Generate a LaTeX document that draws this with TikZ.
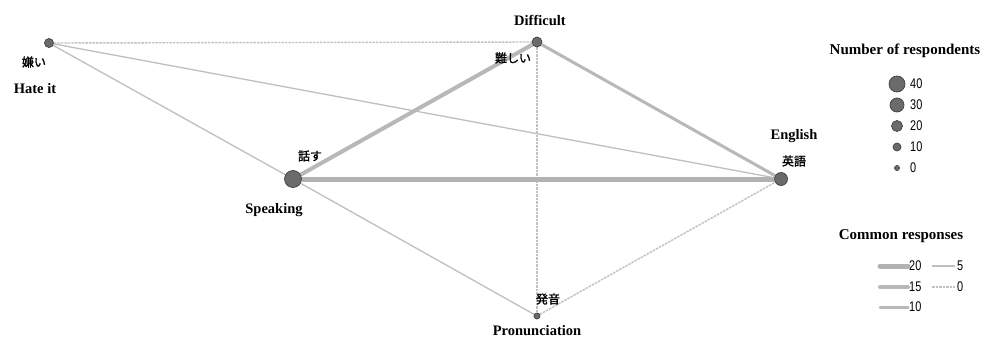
\documentclass[tikz,border=0pt]{standalone}
\usepackage{fontspec}
\setmainfont{Liberation Serif}
\newfontfamily\jpf[FakeBold=1.5]{Noto Sans CJK JP}
\newfontfamily\numf[FakeStretch=0.78]{Liberation Sans}
\usetikzlibrary{backgrounds}
\begin{document}
\begin{tikzpicture}[x=1pt,y=-1pt,
  vtx/.style={circle, fill=black!58, draw=black!75, line width=0.7pt, inner sep=0pt, minimum size=#1},
  en/.style={font=\bfseries\fontsize{14.5}{16}\selectfont, inner sep=0pt},
  jl/.style={font=\jpf\fontsize{12}{13}\selectfont, inner sep=0pt},
  num/.style={font=\numf\fontsize{14}{15}\selectfont, inner sep=0pt, anchor=west},
  ttl/.style={font=\bfseries\fontsize{15}{17}\selectfont, inner sep=0pt},
  etw/.style={line width=5pt, draw=black!30},
  etf/.style={line width=4pt, draw=black!28},
  ete/.style={line width=3pt, draw=black!28},
  efv/.style={line width=1.3pt, draw=black!25},
  ezr/.style={line width=1.4pt, draw=black!24, dash pattern=on 2.5pt off 1pt}]
\useasboundingbox (0,0) rectangle (984,343);

% vertices
\node[vtx=9pt]  (hate) at (49,43) {};
\node[vtx=10pt] (diff) at (537,42) {};
\node[vtx=17pt] (speak) at (293,179) {};
\node[vtx=13pt] (eng) at (781,179) {};
\node[vtx=6pt]  (pron) at (537,316) {};

% edges
\begin{scope}[on background layer]
\fill[white] (0,0) rectangle (984,343);
\draw[ezr] (hate) -- (diff);
\draw[efv] (hate) -- (eng);
\draw[efv] (hate) -- (speak);
\draw[etf] (speak) -- (diff);
\draw[ete] (diff) -- (eng);
\draw[ezr] (diff) -- (pron);
\draw[etw] (speak) -- (eng);
\draw[efv] (speak) -- (pron);
\draw[ezr] (pron) -- (eng);
\end{scope}

% labels
\node[jl] (hatej) at (34,62) {嫌い};
\node[en] (hatee) at (35,89) {Hate it};
\node[en] (diffe) at (540,20) {Difficult};
\node[jl] (diffj) at (513,58) {難しい};
\node[jl] (speakj) at (310,156) {話す};
\node[en] (speake) at (274,210) {Speaking};
\node[en] (enge) at (794,136) {English};
\node[jl] (engj) at (794,161) {英語};
\node[jl] (pronj) at (548,299) {発音};
\node[en] (prone) at (537,331) {Pronunciation};

% legend: respondents
\node[ttl] (lt1) at (905,51) {Number of respondents};
\node[vtx=16pt] (l40) at (897,84) {};
\node[vtx=14pt] (l30) at (897,105) {};
\node[vtx=11pt] (l20) at (897,126) {};
\node[vtx=8pt]  (l10) at (897,147) {};
\node[vtx=5pt]  (l0)  at (897,168) {};
\node[num] (n40) at (910,84) {40};
\node[num] (n30) at (910,105) {30};
\node[num] (n20) at (910,126) {20};
\node[num] (n10) at (910,147) {10};
\node[num] (n0)  at (910,168) {0};

% legend: common responses
\node[ttl] (lt2) at (901,236) {Common responses};
\coordinate (a20) at (880,266); \coordinate (b20) at (908,266);
\coordinate (a15) at (880,287); \coordinate (b15) at (908,287);
\coordinate (a10) at (880,307); \coordinate (b10) at (908,307);
\coordinate (a5) at (932,266);  \coordinate (b5) at (955,266);
\coordinate (a0) at (932,287);  \coordinate (b0) at (955,287);
\draw[etw, line cap=round] (a20) -- (b20);
\draw[etf, line cap=round] (a15) -- (b15);
\draw[ete, line cap=round] (a10) -- (b10);
\draw[efv] (a5) -- (b5);
\draw[ezr] (a0) -- (b0);
\node[num] (m20) at (909,266) {20};
\node[num] (m15) at (909,287) {15};
\node[num] (m10) at (909,307) {10};
\node[num] (m5)  at (957,266) {5};
\node[num] (m0)  at (957,287) {0};
\end{tikzpicture}
\end{document}
